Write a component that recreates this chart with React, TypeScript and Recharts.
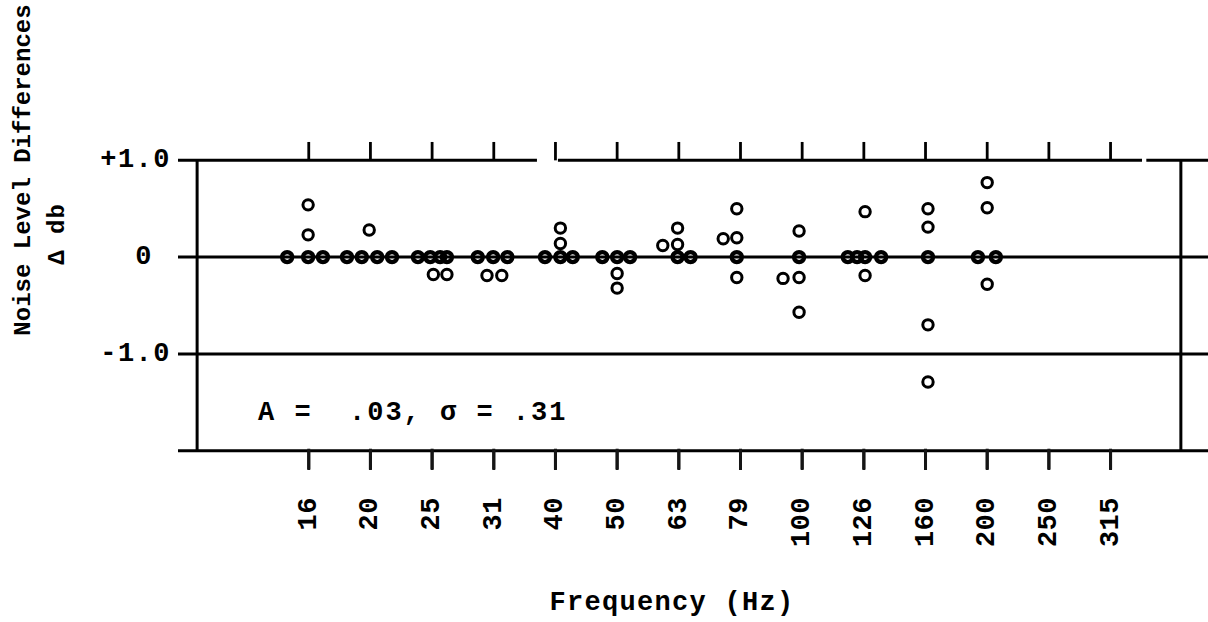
import React from "react";
import { ScatterChart, Scatter, XAxis, YAxis, ReferenceLine } from "recharts";

const FREQ_LABELS = ["16", "20", "25", "31", "40", "50", "63", "79", "100", "126", "160", "200", "250", "315"];
const BAND_TICKS = FREQ_LABELS.map((_, i) => i);

const Y_TICKS = [1, 0, -1];
const Y_TICK_TEXT: Record<string, string> = { "1": "+1.0", "0": "0", "-1": "-1.0" };

const Y_TITLE = "Noise Level Differences";
const Y_UNIT = "Δ db";
const X_TITLE = "Frequency (Hz)";
const STATS_NOTE = "A =  .03, σ = .31";

// Δ db readings, one inner list per 1/3-octave band
const BAND_VALUES = [
  [0, 0, 0, 0.23, 0.54],
  [0, 0, 0, 0, 0.28],
  [0, 0, 0, 0, -0.18, -0.18],
  [0, 0, 0, -0.19, -0.19],
  [0, 0, 0, 0.14, 0.3],
  [0, 0, 0, -0.17, -0.32],
  [0, 0, 0.3, 0.13, 0.12],
  [0, 0.5, 0.2, 0.19, -0.21],
  [0, 0.27, -0.22, -0.21, -0.57],
  [0, 0, 0, 0, 0.47, -0.19],
  [0, 0.31, 0.5, -0.7, -1.29],
  [0, 0, 0.51, 0.77, -0.28],
  [],
  [],
];

// sideways spread of each circle inside its band (fraction of a band step)
const BAND_OFFSETS = [
  [-0.35, -0.01, 0.23, -0.01, -0.01],
  [-0.38, -0.14, 0.11, 0.35, -0.02],
  [-0.23, -0.03, 0.13, 0.24, 0.02, 0.24],
  [-0.26, -0.01, 0.22, -0.11, 0.13],
  [-0.17, 0.08, 0.28, 0.08, 0.08],
  [-0.24, 0, 0.21, 0, 0],
  [-0.02, 0.19, -0.02, -0.02, -0.26],
  [-0.06, -0.06, -0.06, -0.28, -0.06],
  [-0.05, -0.05, -0.31, -0.05, -0.05],
  [-0.26, -0.11, 0.02, 0.28, 0.02, 0.02],
  [0.04, 0.04, 0.04, 0.04, 0.04],
  [-0.15, 0.14, 0, 0, 0],
  [],
  [],
];

// frame of the typed sheet (band units across, Δ db up); plot area is a bit
// taller than the box so the little tick rules stay inside it
const X_DOMAIN: [number, number] = [-2.12, 14.58];
const Y_DOMAIN: [number, number] = [-2.2, 1.2];
const BOX_TOP = 1;
const BOX_BOTTOM = -2;
const FRAME_LEFT = -1.81;
const FRAME_RIGHT = 14.14;
const TOP_RULE = [
  [-2.12, 3.7],
  [4.04, 13.51],
  [13.58, 14.58],
];
const TICK_LEN = 0.19;

const FONT = "'Liberation Mono', 'Courier New', monospace";
const INK = "#000";
const TICK_INK = "#151515";

const points = BAND_VALUES.flatMap((vals, b) =>
  vals.map((v, k) => ({ x: b + BAND_OFFSETS[b][k], y: v }))
);

const Circle = (props: any) => {
  const { cx, cy, payload } = props;
  if (cx == null || cy == null) return null;
  const onLine = payload && payload.y === 0;
  return (
    <circle cx={cx} cy={cy} r={onLine ? 5 : 5.2} fill="none" stroke={INK} strokeWidth={onLine ? 4.4 : 3} />
  );
};

// bottom ticks: rule hanging under the box, rotated band label, and the
// axis title hung off the first tick
const FreqTick = (props: any) => {
  const { x, y, payload } = props;
  const label = FREQ_LABELS[payload.value];
  const ty = y + 27;
  return (
    <g>
      <rect x={x - 1.5} y={y - 20} width={3} height={20} fill={TICK_INK} />
      <text
        x={x}
        y={ty}
        transform={`rotate(-90, ${x}, ${ty})`}
        textAnchor="end"
        dominantBaseline="central"
        fontFamily={FONT}
        fontWeight="bold"
        fontSize={27}
        letterSpacing={0.5}
        fill={INK}
      >
        {label}
      </text>
      {payload.value === 0 && (
        <text
          x={672}
          y={603}
          textAnchor="middle"
          dominantBaseline="central"
          fontFamily={FONT}
          fontWeight="bold"
          fontSize={27}
          letterSpacing={1.3}
          fill={INK}
        >
          {X_TITLE}
        </text>
      )}
    </g>
  );
};

// left labels; the y title and the stats note ride along with them
const DbTick = (props: any) => {
  const { x, y, payload } = props;
  const shift = payload.value === 0 ? 25 : 7;
  return (
    <g fontFamily={FONT} fontWeight="bold" fill={INK}>
      <text
        x={x - shift}
        y={y}
        textAnchor="end"
        dominantBaseline="central"
        fontSize={27}
        letterSpacing={1.5}
      >
        {Y_TICK_TEXT[String(payload.value)]}
      </text>
      {payload.value === 1 && (
        <>
          <text
            x={23}
            y={170}
            transform="rotate(-90, 23, 170)"
            textAnchor="middle"
            dominantBaseline="central"
            fontSize={24}
          >
            {Y_TITLE}
          </text>
          <text
            x={57}
            y={234}
            transform="rotate(-90, 57, 234)"
            textAnchor="middle"
            dominantBaseline="central"
            fontSize={24}
            letterSpacing={1}
          >
            {Y_UNIT}
          </text>
        </>
      )}
      {payload.value === -1 && (
        <text
          x={258}
          y={413}
          dominantBaseline="central"
          fontSize={27}
          letterSpacing={2}
          style={{ whiteSpace: "pre" }}
        >
          {STATS_NOTE}
        </text>
      )}
    </g>
  );
};

export default function App() {
  return (
    <div style={{ position: "absolute", left: 0, top: 0, width: 1208, height: 622, background: "#fff" }}>
      <ScatterChart width={1208} height={622} margin={{ top: 141, right: 0, bottom: 0, left: 0 }}>
        <XAxis
          xAxisId="b"
          type="number"
          dataKey="x"
          domain={X_DOMAIN}
          ticks={BAND_TICKS}
          interval={0}
          height={152}
          axisLine={false}
          tickLine={false}
          tickSize={0}
          tickMargin={0}
          tick={<FreqTick />}
        />
        <YAxis
          type="number"
          dataKey="y"
          domain={Y_DOMAIN}
          ticks={Y_TICKS}
          interval={0}
          width={178}
          axisLine={false}
          tickLine={false}
          tickSize={0}
          tickMargin={0}
          tick={<DbTick />}
        />
        <ReferenceLine xAxisId="b" y={0} stroke={INK} strokeWidth={3} />
        <ReferenceLine xAxisId="b" y={-1} stroke={INK} strokeWidth={3} />
        <ReferenceLine xAxisId="b" y={BOX_BOTTOM} stroke={INK} strokeWidth={3} />
        {TOP_RULE.map(([a, b], i) => (
          <ReferenceLine
            key={`top-${i}`}
            xAxisId="b"
            segment={[{ x: a, y: BOX_TOP }, { x: b, y: BOX_TOP }]}
            stroke={INK}
            strokeWidth={3}
          />
        ))}
        {[FRAME_LEFT, FRAME_RIGHT].map((fx) => (
          <ReferenceLine
            key={`side-${fx}`}
            xAxisId="b"
            segment={[{ x: fx, y: BOX_BOTTOM }, { x: fx, y: BOX_TOP }]}
            stroke={INK}
            strokeWidth={3}
          />
        ))}
        {BAND_TICKS.map((t) => (
          <ReferenceLine
            key={`tt-${t}`}
            xAxisId="b"
            segment={[{ x: t, y: BOX_TOP }, { x: t, y: BOX_TOP + TICK_LEN }]}
            stroke={INK}
            strokeWidth={2.8}
          />
        ))}
        {BAND_TICKS.map((t) => (
          <ReferenceLine
            key={`bt-${t}`}
            xAxisId="b"
            segment={[{ x: t, y: BOX_BOTTOM + 0.02 }, { x: t, y: BOX_BOTTOM - TICK_LEN }]}
            stroke={TICK_INK}
            strokeWidth={3}
          />
        ))}
        <Scatter xAxisId="b" data={points} shape={<Circle />} isAnimationActive={false} />
      </ScatterChart>
    </div>
  );
}
